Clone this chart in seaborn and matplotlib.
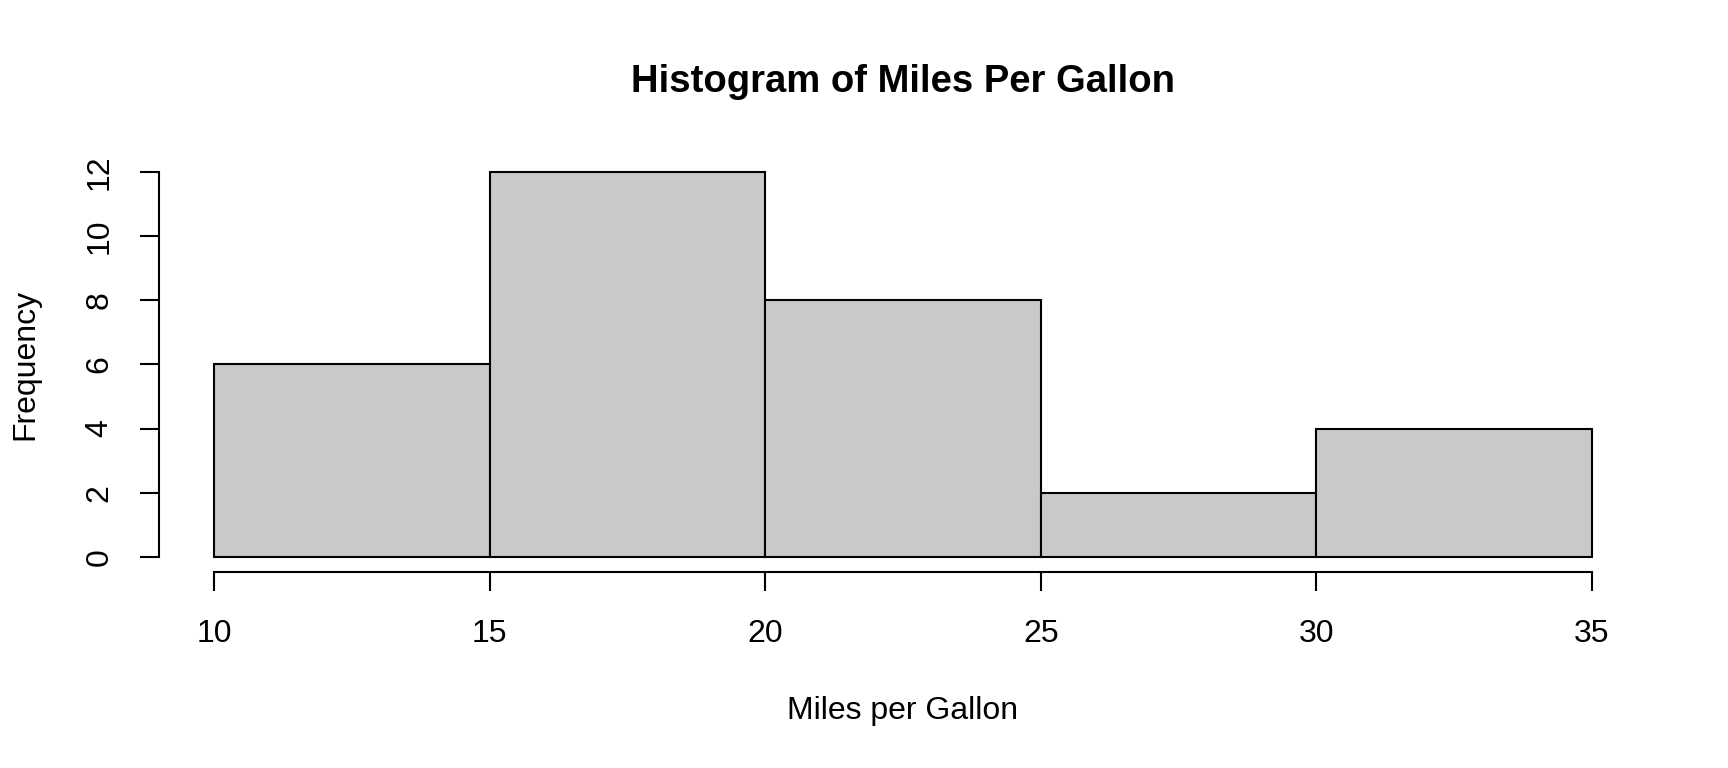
import matplotlib
matplotlib.use("Agg")
import matplotlib.pyplot as plt
import seaborn as sns
import numpy as np

# Histogram of mpg
bin_edges = [10, 15, 20, 25, 30, 35]
bin_counts = [6, 12, 8, 2, 4]
y_ticks = [0, 2, 4, 6, 8, 10, 12]

mids = [(a + b) / 2 for a, b in zip(bin_edges[:-1], bin_edges[1:])]

sns.set_style("white")
plt.rcParams["font.family"] = ["Liberation Sans", "DejaVu Sans"]
plt.rcParams["text.color"] = "black"
plt.rcParams["axes.labelcolor"] = "black"

fig = plt.figure(figsize=(17.28, 7.68), dpi=100)
ax = fig.add_axes([159 / 1728, 1 - 572 / 768, (1647 - 159) / 1728, (572 - 157) / 768])

sns.histplot(x=mids, weights=bin_counts, bins=bin_edges, color="#C9C9C9",
             edgecolor="black", linewidth=1.5, alpha=1, ax=ax)

ax.set_xlim(9, 36)
ax.set_ylim(-0.48, 12.48)
ax.set_xticks(bin_edges)
ax.set_yticks(y_ticks)
ax.set_yticklabels([str(v) for v in y_ticks], rotation=90, va="center")

for s in ["top", "right"]:
    ax.spines[s].set_visible(False)
ax.spines["left"].set_bounds(0, 12)
ax.spines["bottom"].set_bounds(10, 35)
for s in ["left", "bottom"]:
    ax.spines[s].set_linewidth(1.5)
    ax.spines[s].set_color("black")

ax.tick_params(axis="both", direction="out", length=14, width=1.5, labelsize=23,
               colors="black", bottom=True, left=True)
ax.tick_params(axis="x", pad=20)
ax.tick_params(axis="y", pad=18)

ax.set_xlabel("Miles per Gallon", fontsize=23, labelpad=34, color="black")
ax.set_ylabel("Frequency", fontsize=23, labelpad=32, color="black")
ax.set_title("Histogram of Miles Per Gallon", fontsize=27.5, fontweight="bold",
             pad=47, color="black")

fig.savefig("out.png", dpi=100)
